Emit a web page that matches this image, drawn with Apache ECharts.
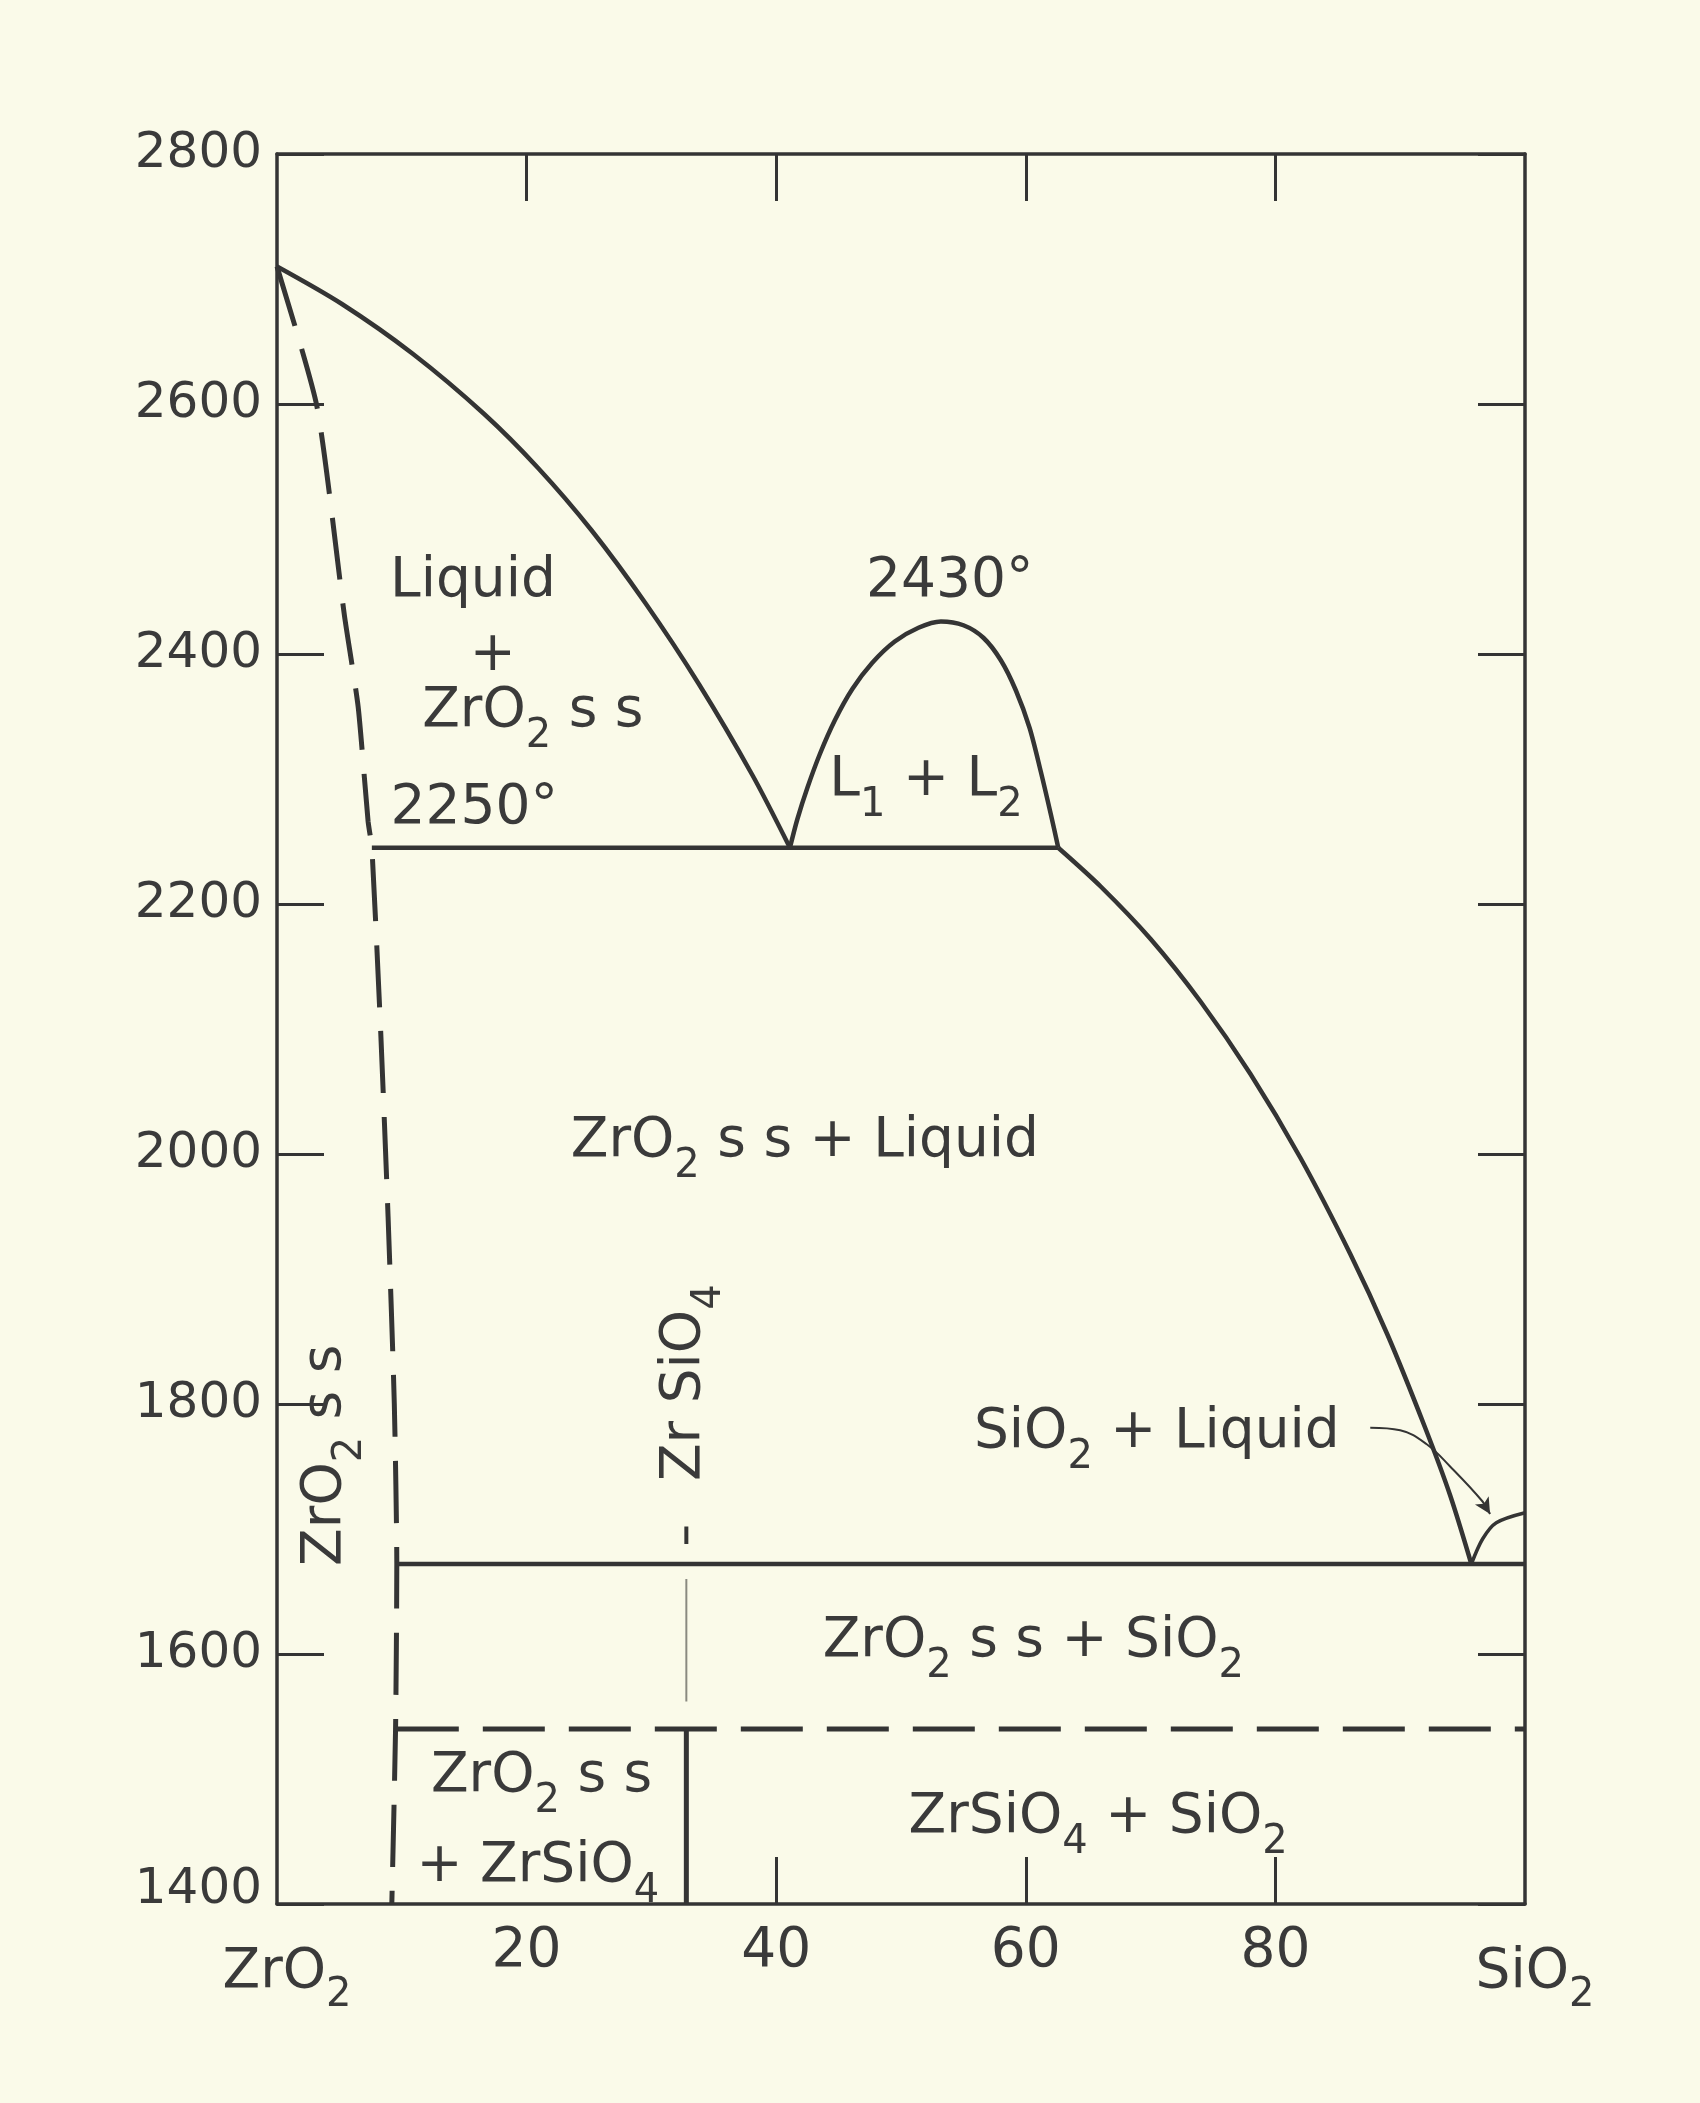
<!DOCTYPE html>
<html>
<head>
<meta charset="utf-8">
<title>ZrO2 - SiO2</title>
<script src="https://cdn.jsdelivr.net/npm/echarts@6/dist/echarts.min.js"></script>
<style>
html, body { margin: 0; padding: 0; background: #fafae9; }
#chart { width: 1700px; height: 2103px; }
</style>
</head>
<body>
<div id="chart"></div>
<script>
// x = wt% SiO2, y = temperature (deg C)
var xTickLabels = ['ZrO_2', '20', '40', '60', '80', 'SiO_2'];
var yTickValues = [1400, 1600, 1800, 2000, 2200, 2400, 2600, 2800];

// liquidus on the ZrO2 side
var liquidusZr = [[0, 2710], [5.2, 2680], [10.9, 2640], [16.6, 2592], [20.9, 2549],
  [25.2, 2499], [29.5, 2441], [33.8, 2376], [38.1, 2303], [41.1, 2245]];
// ZrO2 solid solution limit (dashed)
var solvusZr = [[0, 2710], [3.2, 2598], [5.4, 2431], [6.5, 2358], [7.3, 2266], [7.6, 2245],
  [8.3, 2100], [8.9, 1950], [9.4, 1800], [9.6, 1672], [9.5, 1540], [9.2, 1400]];
// monotectic line 2250
var monotectic = [[7.6, 2245], [62.6, 2245]];
// liquid miscibility gap
var gapDome = [[41.1, 2245], [41.7, 2268], [42.5, 2293], [43.5, 2320], [44.7, 2347], [46.1, 2372],
  [47.7, 2393], [49.5, 2410], [51.4, 2421], [53.2, 2426], [55.0, 2423], [56.6, 2413],
  [58.0, 2395], [59.2, 2371], [60.3, 2341], [61.2, 2306], [62.0, 2272], [62.6, 2245]];
// liquidus down to the SiO2 eutectic
var liquidusSi = [[62.6, 2245], [66, 2214], [70, 2172], [74, 2122], [78, 2064], [82, 1997],
  [86, 1920], [89, 1855], [92, 1781], [94, 1727], [95.7, 1672]];
var liquidusCrist = [[95.7, 1672], [96.6, 1692], [97.7, 1705], [100, 1713]];
var eutecticLine = [[9.6, 1672], [100, 1672]];
var zirconDecomp = [[9.6, 1540], [100, 1540]];
var zirconSolid = [[32.8, 1540], [32.8, 1400]];
var zirconFaint = [[32.8, 1660], [32.8, 1562]];
var zirconStub = [[32.8, 1688], [32.8, 1702]];
var leader = [[87.6, 1781], [90.0, 1779], [92.1, 1768], [94.0, 1750], [96.6, 1722], [97.2, 1712]];

// region labels: x, y, text ("_n" = subscript), rotation
var regionLabels = [
  [15.7, 2458, 'Liquid', 0],
  [17.3, 2399, '+', 0],
  [20.5, 2354, 'ZrO_2 s s', 0],
  [15.8, 2276, '2250°', 0],
  [53.9, 2458, '2430°', 0],
  [52.0, 2299, 'L_1 + L_2', 0],
  [42.3, 2010, 'ZrO_2 s s + Liquid', 0],
  [70.5, 1777, 'SiO_2 + Liquid', 0],
  [3.9, 1759, 'ZrO_2 s s', 90],
  [32.7, 1817, 'Zr SiO_4', 90],
  [21.2, 1502, 'ZrO_2 s s', 0],
  [20.9, 1430, '+ ZrSiO_4', 0],
  [60.6, 1610, 'ZrO_2 s s + SiO_2', 0],
  [65.8, 1469, 'ZrSiO_4 + SiO_2', 0]
];

var ink = '#343434';
var textInk = '#3a3a3a';
var font = 'DejaVu Sans';

function toRich(str, main, sub) {
  var parts = str.split(/_(\d)/);
  var out = '';
  for (var i = 0; i < parts.length; i++) {
    if (parts[i] === '') continue;
    out += '{' + (i % 2 ? sub : main) + '|' + parts[i] + '}';
  }
  return out;
}

function lineSeries(data, width, opts) {
  var s = {
    type: 'line',
    data: data,
    symbol: 'none',
    silent: true,
    lineStyle: { color: ink, width: width }
  };
  for (var k in opts) s[k] = opts[k];
  if (opts && opts.dash) s.lineStyle.type = opts.dash;
  if (opts && opts.color) s.lineStyle.color = opts.color;
  return s;
}

function frameLine() {
  return { show: true, onZero: false, lineStyle: { color: ink, width: 3.5 } };
}
function innerTicks(values) {
  var t = { show: true, inside: true, length: 47, lineStyle: { color: ink, width: 3 } };
  if (values) t.customValues = values;
  return t;
}

var leaderData = leader.map(function (p, i) {
  if (i < leader.length - 1) return p;
  return { value: p, symbol: 'arrow', symbolSize: [12, 16], symbolRotate: -149,
    itemStyle: { color: ink } };
});

var myChart = echarts.init(document.getElementById('chart'));
var option = {
  backgroundColor: '#fafae9',
  animation: false,
  grid: { left: 277, right: 175, top: 154, bottom: 199 },
  xAxis: [
    {
      type: 'value', min: 0, max: 100, interval: 20, position: 'bottom',
      splitLine: { show: false },
      axisLine: frameLine(),
      axisTick: innerTicks([40, 60, 80]),
      axisLabel: {
        margin: 18, fontFamily: font, fontSize: 55, lineHeight: 60, color: textInk,
        showMinLabel: true, showMaxLabel: true,
        formatter: function (v) {
          var name = xTickLabels[Math.round(v / 20)];
          if (name.indexOf('_') < 0) return name;
          return toRich(name, 'e', 'es');
        },
        rich: {
          e: { fontFamily: font, fontSize: 55, lineHeight: 60, color: textInk, padding: [42, 0, 0, 20] },
          es: { fontFamily: font, fontSize: 40, lineHeight: 60, color: textInk, padding: [88, 0, 0, 0] }
        }
      }
    },
    {
      type: 'value', min: 0, max: 100, interval: 20, position: 'top',
      splitLine: { show: false },
      axisLine: frameLine(),
      axisTick: innerTicks([20, 40, 60, 80]),
      axisLabel: { show: false }
    }
  ],
  yAxis: [
    {
      type: 'value', min: 1400, max: 2800, interval: 200, position: 'left',
      splitLine: { show: false },
      axisLine: frameLine(),
      axisTick: innerTicks(),
      axisLabel: {
        margin: 15, fontFamily: font, fontSize: 50, lineHeight: 60, color: textInk,
        showMinLabel: true, showMaxLabel: true,
        formatter: function (v) {
          return v === yTickValues[0] ? '{low|' + v + '}' : String(v);
        },
        rich: {
          low: { fontFamily: font, fontSize: 50, lineHeight: 60, color: textInk, padding: [0, 0, 28, 0] }
        }
      }
    },
    {
      type: 'value', min: 1400, max: 2800, interval: 200, position: 'right',
      splitLine: { show: false },
      axisLine: frameLine(),
      axisTick: innerTicks(),
      axisLabel: { show: false }
    }
  ],
  series: [
    lineSeries(liquidusZr, 4.5, { smooth: 0.3 }),
    lineSeries(solvusZr, 5, { smooth: 0.2, dash: [62, 24] }),
    lineSeries(monotectic, 4.5, {}),
    lineSeries(gapDome, 4.5, { smooth: 0.3 }),
    lineSeries(liquidusSi, 4.5, { smooth: 0.3 }),
    lineSeries(liquidusCrist, 3.5, { smooth: 0.3 }),
    lineSeries(eutecticLine, 4.5, {}),
    lineSeries(zirconDecomp, 5, { dash: [62, 24] }),
    lineSeries(zirconSolid, 5, {}),
    lineSeries(zirconFaint, 2, { color: '#8a8a80' }),
    lineSeries(zirconStub, 4, {}),
    lineSeries(leaderData, 2, { smooth: 0.4, showSymbol: true }),
    {
      type: 'scatter',
      silent: true,
      symbol: 'circle',
      symbolSize: 0,
      itemStyle: { color: ink },
      label: {
        show: true,
        position: 'inside',
        align: 'center',
        verticalAlign: 'middle',
        color: textInk,
        opacity: 1,
        textBorderWidth: 0,
        rich: {
          m: { fontFamily: font, fontSize: 55, lineHeight: 56, color: textInk, textBorderWidth: 0,
            padding: [25, 0, 25, 0] },
          s: { fontFamily: font, fontSize: 40, lineHeight: 56, color: textInk, textBorderWidth: 0,
            padding: [50, 0, 0, 0] }
        }
      },
      data: regionLabels.map(function (r) {
        return {
          value: [r[0], r[1]],
          label: { formatter: toRich(r[2], 'm', 's'), rotate: r[3] }
        };
      })
    }
  ]
};
myChart.setOption(option);
</script>
</body>
</html>
